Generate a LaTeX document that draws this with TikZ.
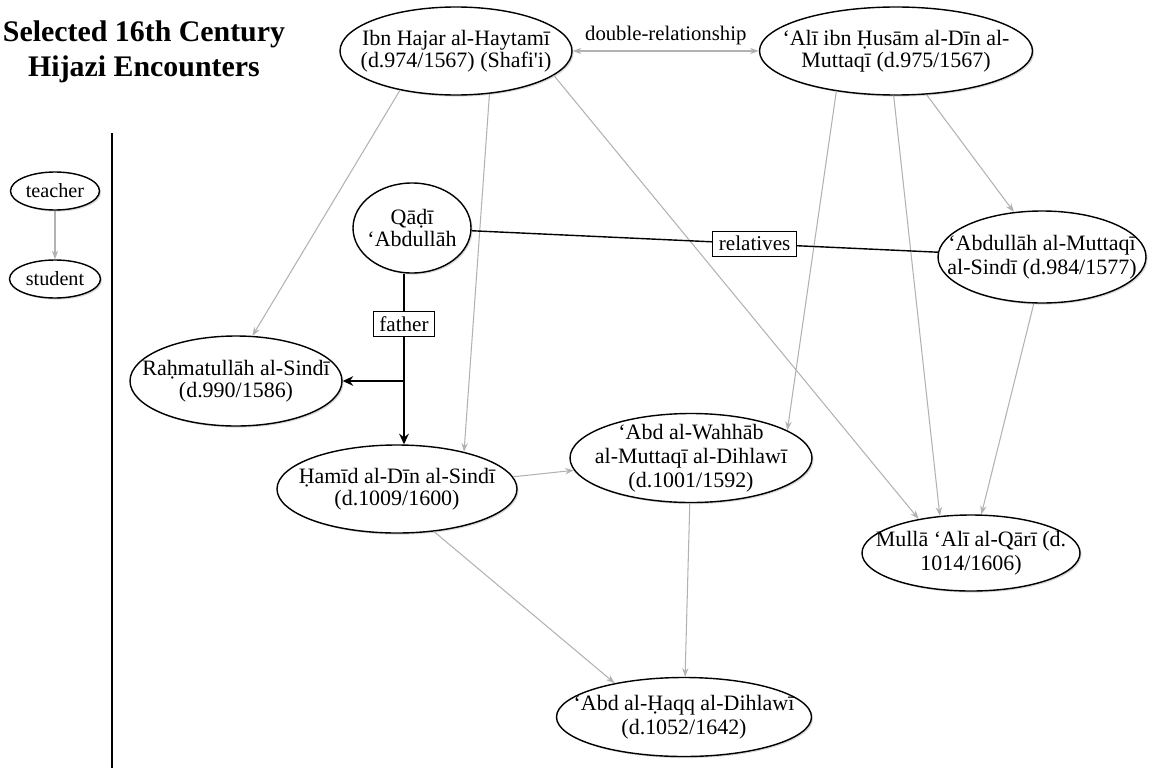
\documentclass[tikz,border=0pt]{standalone}
\usepackage{fontspec}
\setmainfont{Liberation Serif}
\usetikzlibrary{
  arrows.meta,
  positioning,     % below right=... of ...
  shapes.geometric,% ellipse
  shadows,         % drop shadow
}
\definecolor{edgegray}{gray}{0.7}
\tikzset{
  semithick,
  person/.style={
    draw,
    ellipse,
    fill=white,
    line width=0.8pt,
    inner sep=-0.5cm,  % let minimum width/height fix the size
    align=center,
    drop shadow={shadow xshift=0.9pt,shadow yshift=-0.9pt,opacity=0.3},
    font=\fontsize{12.5}{12.2}\selectfont
  },
  loose/.style={
    font=\fontsize{12.5}{13.6}\selectfont
  },
  legend/.style={
    person,
    font=\fontsize{11.5}{13}\selectfont
  },
  tag/.style={
    draw,
    rectangle,
    fill=white,
    line width=0.6pt,
    inner xsep=3.5pt,
    inner ysep=3pt,
    font=\fontsize{12}{13}\selectfont
  },
  teaches/.style={
    draw=edgegray,
    line width=0.6pt,
    -{Stealth[length=5pt,width=3.6pt]}
  },
  kin/.style={
    line width=0.8pt
  },
  kin arrow/.style={
    kin,
    -{Stealth[length=6pt,width=5.5pt]}
  }
}
\begin{document}
\begin{tikzpicture}[on grid]
\useasboundingbox (0,0) rectangle (23.16,-15.36);
% legend
\node[font=\fontsize{17}{20}\selectfont\bfseries,align=center] (title) at (2.88,-1.04)
  {Selected 16th Century\\Hijazi Encounters};
\node[legend,minimum width=1.78cm,minimum height=0.76cm] (teacher) at (1.10,-3.82) {teacher};
\node[legend,minimum width=1.82cm,minimum height=0.76cm] (student) [below=1.76cm of teacher] {student};
\coordinate (rule top) at (2.24,-2.66);
\coordinate (rule end) at (2.24,-15.36);
\draw[line width=1pt] (rule top) -- (rule end);
\draw[teaches] (teacher) -- (student);
% scholars
\node[person,minimum width=4.64cm,minimum height=1.76cm] (ibn) at (9.12,-1.02)
  {Ibn Hajar al-Haytamī\\(d.974/1567) (Shafi\textquotesingle i)};
\node[person,minimum width=5.46cm,minimum height=1.76cm] (ali) [right=8.8cm of ibn]
  {‘Alī ibn Ḥusām al-Dīn al-\\Muttaqī (d.975/1567)};
\node[person,minimum width=2.36cm,minimum height=1.80cm] (qadi) [below left=3.54cm and 0.88cm of ibn]
  {Qāḍī\\‘Abdullāh};
\node[person,loose,minimum width=4.16cm,minimum height=1.84cm] (abdullah) [below right=4.12cm and 2.92cm of ali]
  {‘Abdullāh al-Muttaqī\\al-Sindī (d.984/1577)};
\node[person,minimum width=4.24cm,minimum height=1.80cm] (rahmat) [below left=3.06cm and 3.52cm of qadi]
  {Raḥmatullāh al-Sindī\\(d.990/1586)};
\node[person,minimum width=4.80cm,minimum height=1.76cm] (hamid) [below left=5.22cm and 0.30cm of qadi]
  {Ḥamīd al-Dīn al-Sindī\\(d.1009/1600)};
\node[person,loose,minimum width=4.84cm,minimum height=1.78cm] (wahhab) [above right=0.62cm and 5.88cm of hamid]
  {‘Abd al-Wahhāb\\al-Muttaqī al-Dihlawī\\(d.1001/1592)};
\node[person,loose,minimum width=4.36cm,minimum height=1.52cm] (mulla) [below left=5.92cm and 1.42cm of abdullah]
  {Mullā ‘Alī al-Qārī (d.\\1014/1606)};
\node[person,loose,minimum width=5.10cm,minimum height=1.58cm] (haqq) [below left=5.18cm and 0.14cm of wahhab]
  {‘Abd al-Ḥaqq al-Dihlawī\\(d.1052/1642)};
\node[tag,xshift=-0.16cm] (father) [below=1.92cm of qadi] {father};
\coordinate (fork) at (father |- rahmat.east);
% teacher -> student
\draw[teaches,{Stealth[length=5pt,width=3.6pt]}-{Stealth[length=5pt,width=3.6pt]}]
  (ibn) -- node[above,font=\fontsize{11.8}{13}\selectfont] {double-relationship} (ali);
\draw[teaches] (ibn.215)      -- (rahmat.70.5);
\draw[teaches] (ibn.308)      -- (hamid.29);
\draw[teaches] (ibn.346)      -- (mulla.147);
\draw[teaches] (ali.214)      -- (wahhab.16);
\draw[teaches] (ali.267)      -- (mulla.130);
\draw[teaches] (ali.305)      -- (abdullah.122);
\draw[teaches] (abdullah.260) -- (mulla.75);
\draw[teaches] (hamid.6)      -- (wahhab.186);
\draw[teaches] (hamid.311)    -- (haqq.154);
\draw[teaches] (wahhab)       -- (haqq);
% family
\draw[kin] (qadi) -- node[tag,pos=0.607] {relatives} (abdullah);
\draw[kin] (qadi.south -| father) -- (father.north);
\draw[kin arrow] (father.south) -- (father.south |- hamid.north);
\draw[kin arrow] (fork) -- (rahmat.east);
\end{tikzpicture}
\end{document}
